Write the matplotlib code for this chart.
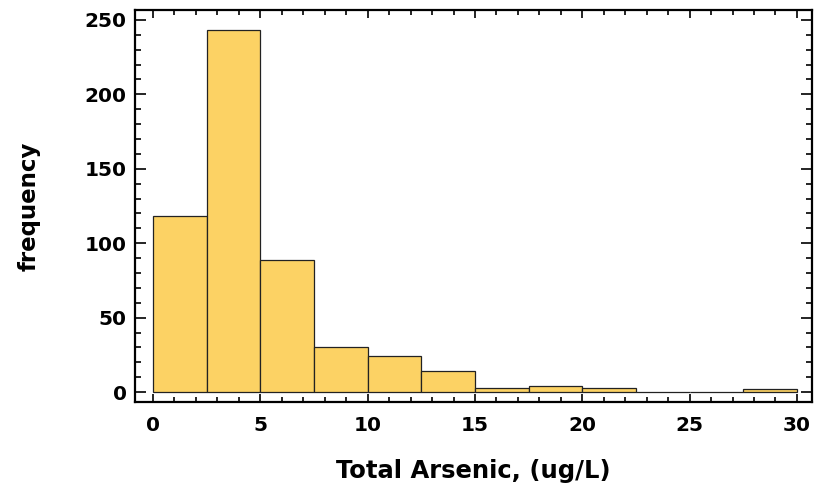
import numpy as np
import matplotlib
matplotlib.use('Agg')
import matplotlib.pyplot as plt
from matplotlib.ticker import MultipleLocator

plt.rcParams['font.family'] = ['DejaVu Sans']
plt.rcParams['font.weight'] = 'bold'

# histogram of total arsenic, bins of 2.5 ug/L
bin_edges = [0, 2.5, 5, 7.5, 10, 12.5, 15, 17.5, 20, 22.5, 25, 27.5, 30]
counts = [118, 243, 89, 30, 24, 14, 3, 4, 3, 0, 0, 2]

fig = plt.figure(figsize=(8.15, 4.92), dpi=100)
ax = fig.add_axes([0.1656, 0.1829, 0.8307, 0.7968])

ax.bar(bin_edges[:-1], counts, width=np.diff(bin_edges), align='edge',
       color='#FCD264', edgecolor='#222222', linewidth=0.9)

ax.set_xlim(-0.84, 30.7)
ax.set_ylim(-6.7, 256.7)

ax.xaxis.set_major_locator(MultipleLocator(5))
ax.xaxis.set_minor_locator(MultipleLocator(1))
ax.yaxis.set_major_locator(MultipleLocator(50))
ax.yaxis.set_minor_locator(MultipleLocator(10))

ax.tick_params(axis='both', which='both', direction='in', top=True, right=True,
               labelsize=14.5, width=1.2, colors='black')
ax.tick_params(axis='x', which='major', length=6, pad=10)
ax.tick_params(axis='x', which='minor', length=3.5)
ax.tick_params(axis='y', which='major', length=8, pad=6)
ax.tick_params(axis='y', which='minor', length=4.5)

for s in ax.spines.values():
    s.set_linewidth(1.6)

ax.set_xlabel('Total Arsenic, (ug/L)', fontsize=17.5, fontweight='bold', labelpad=17)
ax.set_ylabel('frequency', fontsize=16.5, fontweight='bold', labelpad=32)

fig.savefig('out.png', dpi=100)
